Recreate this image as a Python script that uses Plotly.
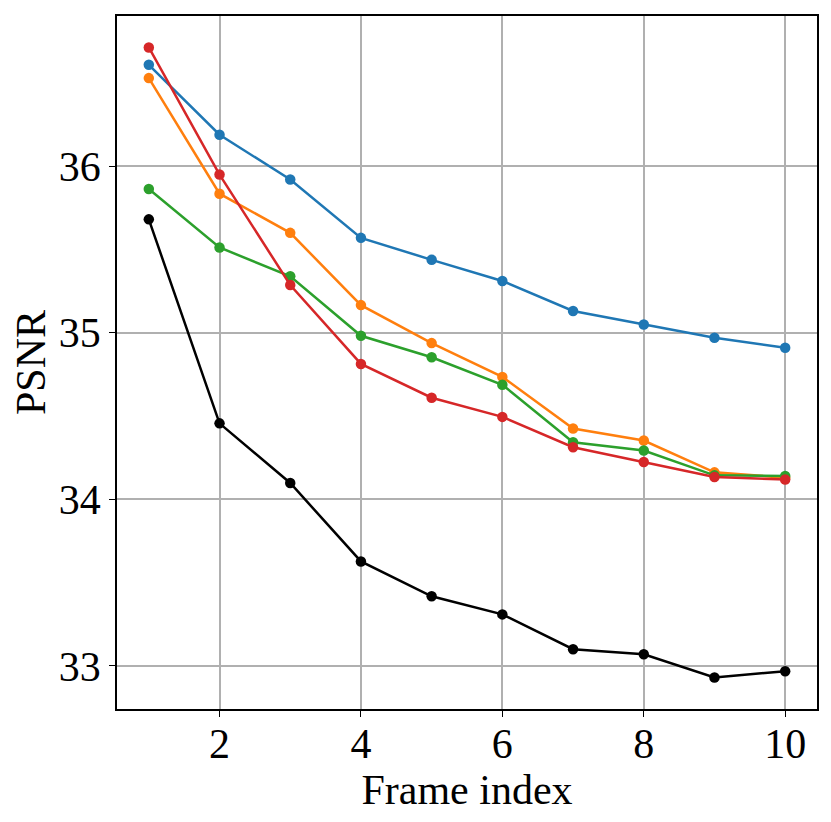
import plotly.graph_objects as go

frames = [1, 2, 3, 4, 5, 6, 7, 8, 9, 10]

psnr_black = [35.681, 34.456, 34.098, 33.627, 33.418, 33.309, 33.100, 33.070, 32.930, 32.968]
psnr_blue = [36.609, 36.189, 35.920, 35.570, 35.438, 35.311, 35.131, 35.050, 34.970, 34.910]
psnr_orange = [36.529, 35.835, 35.600, 35.166, 34.938, 34.735, 34.425, 34.353, 34.162, 34.130]
psnr_green = [35.863, 35.512, 35.339, 34.982, 34.853, 34.688, 34.343, 34.293, 34.144, 34.140]
psnr_red = [36.713, 35.950, 35.287, 34.813, 34.610, 34.495, 34.313, 34.224, 34.134, 34.119]

x_ticks = [2, 4, 6, 8, 10]
y_ticks = [33, 34, 35, 36]

series = [
    (psnr_black, "black"),
    (psnr_blue, "#1f77b4"),
    (psnr_orange, "#ff7f0e"),
    (psnr_green, "#2ca02c"),
    (psnr_red, "#d62728"),
]

fig = go.Figure()
for vals, color in series:
    fig.add_trace(go.Scatter(
        x=frames, y=vals, mode="lines+markers",
        line=dict(color=color, width=2.5),
        marker=dict(color=color, size=10.5),
        showlegend=False,
    ))

font = dict(family="Liberation Serif, Times New Roman, serif", size=42, color="black")

# page body has an 8px margin, so the figure is shrunk by that much
fig.update_layout(
    width=823, height=813,
    margin=dict(l=109, r=14, t=6, b=112),
    paper_bgcolor="white", plot_bgcolor="white",
    font=font,
)
fig.update_xaxes(
    range=[0.55, 10.45], tickvals=x_ticks,
    title=dict(text="Frame index", font=font, standoff=0),
    showgrid=True, gridcolor="#b0b0b0", gridwidth=1.5,
    showline=True, linecolor="black", linewidth=1.5, mirror=True,
    ticks="outside", ticklen=6, tickwidth=1.2, tickcolor="black",
    tickfont=font, zeroline=False, ticklabelstandoff=-9,
)
fig.update_yaxes(
    range=[32.741, 36.902], tickvals=y_ticks,
    title=dict(text="PSNR", font=font, standoff=7),
    showgrid=True, gridcolor="#b0b0b0", gridwidth=1.5,
    showline=True, linecolor="black", linewidth=1.5, mirror=True,
    ticks="outside", ticklen=6, tickwidth=1.2, tickcolor="black",
    tickfont=font, zeroline=False,
)

fig.write_html("out.html")
